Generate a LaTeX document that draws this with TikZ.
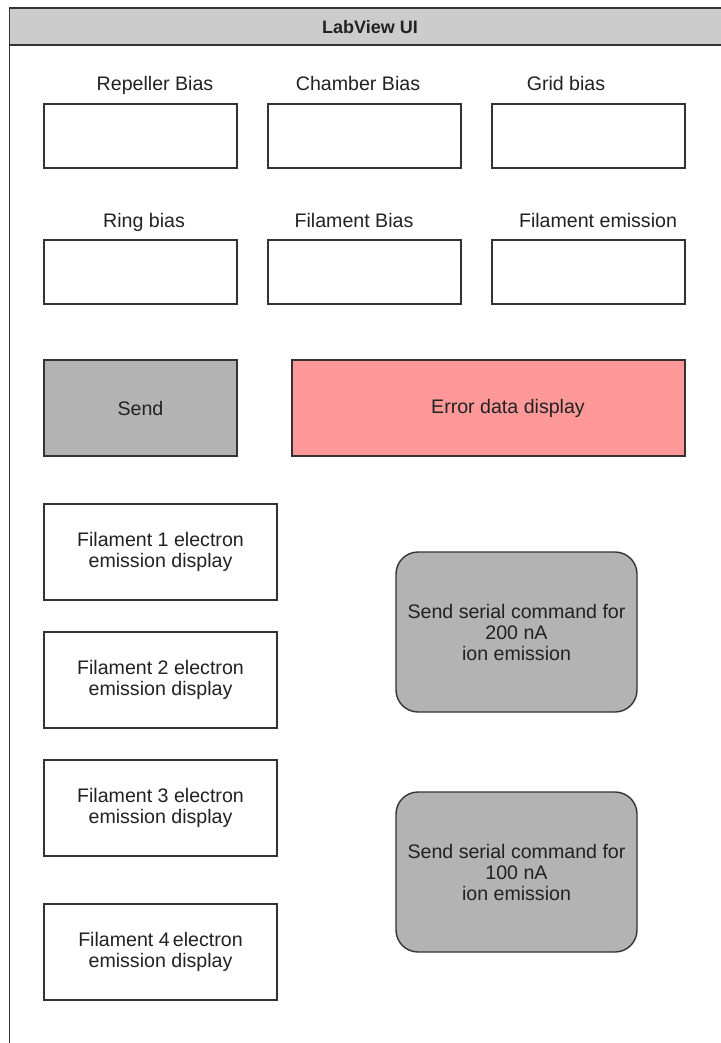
\documentclass[tikz,border=0pt]{standalone}
\usepackage{fontspec}
\setmainfont{Liberation Sans}
\definecolor{linec}{HTML}{333333}
\definecolor{textc}{HTML}{222222}
\definecolor{hdr}{HTML}{CCCCCC}
\definecolor{btn}{HTML}{B3B3B3}
\definecolor{err}{HTML}{FF9999}
\begin{document}
\begin{tikzpicture}[x=1pt,y=-1pt,
  every node/.style={text=textc,font=\fontsize{19.6}{21}\selectfont},
  field/.style={draw=linec,line width=1.4pt,fill=white,minimum width=193pt,minimum height=64pt,inner sep=0pt},
  disp/.style={draw=linec,line width=1.4pt,fill=white,minimum width=233pt,minimum height=96pt,align=center,inner sep=0pt},
  cmd/.style={draw=linec,line width=1.4pt,fill=btn,minimum width=241pt,minimum height=160pt,rounded corners=22pt,align=center,inner sep=0pt},
  lbl/.style={anchor=base,inner sep=0pt}]
\useasboundingbox (0,0) rectangle (720,1043);
% frame
\fill[white] (0,0) rectangle (720,1043);
\filldraw[fill=hdr,draw=linec,line width=1.4pt] (9.5,8) rectangle (760,45);
\draw[linec,line width=1.4pt] (9.5,45) -- (9.5,1060);
\node[font=\bfseries\fontsize{18}{21}\selectfont,anchor=center] (title) at (370,27) {LabView UI};
% row 1
\node[lbl] (l1) at (155,91) {Repeller Bias};
\node[lbl] (l2) at (358,91) {Chamber Bias};
\node[lbl] (l3) at (566,91) {Grid bias};
\node[field] (f1) at (140.5,136) {};
\node[field] (f2) at (364.5,136) {};
\node[field] (f3) at (588.5,136) {};
% row 2
\node[lbl] (l4) at (144,227) {Ring bias};
\node[lbl] (l5) at (354,227) {Filament Bias};
\node[lbl] (l6) at (598,227) {Filament emission};
\node[field] (f4) at (140.5,272) {};
\node[field] (f5) at (364.5,272) {};
\node[field] (f6) at (588.5,272) {};
% send / error
\node[draw=linec,line width=1.4pt,fill=btn,minimum width=193pt,minimum height=96pt,inner sep=0pt] (send) at (140.5,408) {Send};
\node[draw=linec,line width=1.4pt,fill=err,minimum width=393pt,minimum height=96pt,inner sep=0pt] (error) at (488.5,408) {\hspace*{39pt}Error data display};
% filament displays
\node[disp] (d1) at (160.5,552) {Filament 1 electron\\ emission display};
\node[disp] (d2) at (160.5,680) {Filament 2 electron\\emission display};
\node[disp] (d3) at (160.5,808) {Filament 3 electron\\emission display};
\node[disp] (d4) at (160.5,952) {Filament 4\,electron\\emission display};
% commands
\node[cmd] (c1) at (516.5,632) {Send serial command for\\200 nA\\ion emission};
\node[cmd] (c2) at (516.5,872) {Send serial command for\\100 nA\\ion emission};
\end{tikzpicture}
\end{document}
